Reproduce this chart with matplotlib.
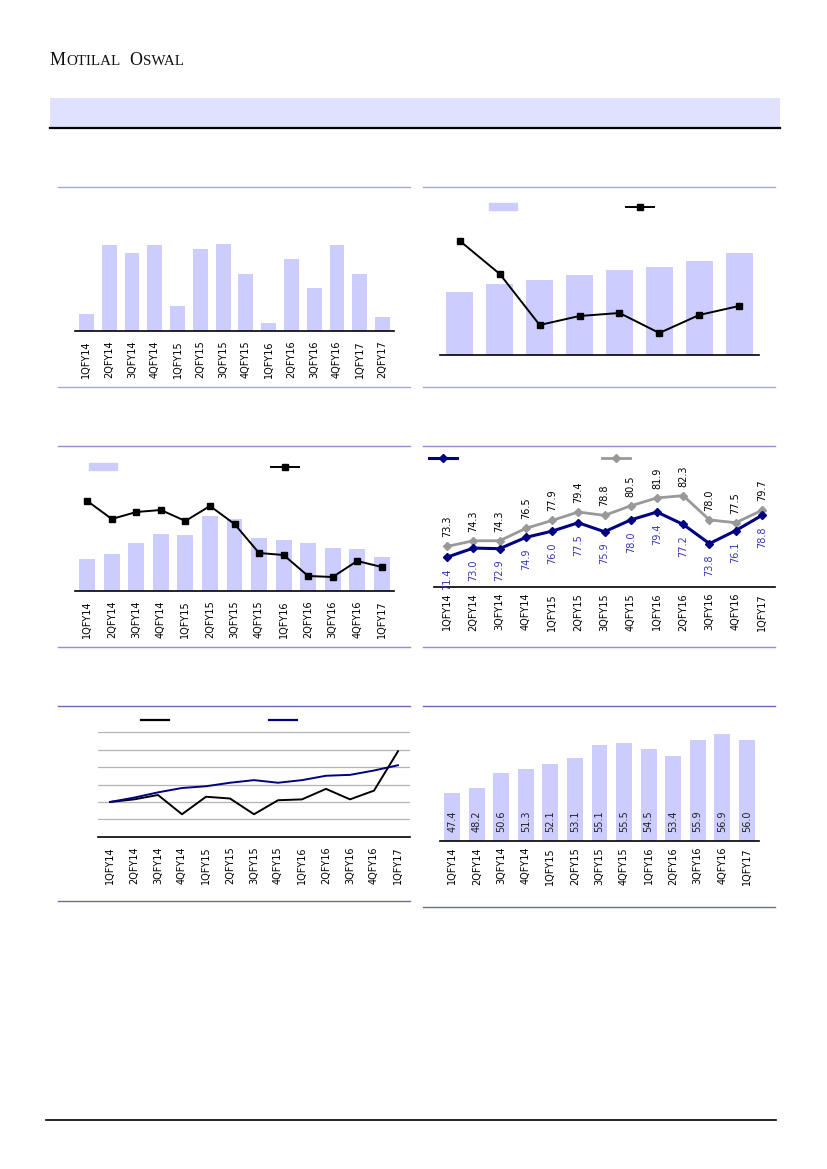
import matplotlib
matplotlib.use('Agg')
import matplotlib.pyplot as plt
from matplotlib.patches import Rectangle, Patch
from matplotlib.lines import Line2D

W, H = 827, 1169

# Chart data.
q14_q17 = ["1QFY14", "2QFY14", "3QFY14", "4QFY14", "1QFY15", "2QFY15", "3QFY15",
           "4QFY15", "1QFY16", "2QFY16", "3QFY16", "4QFY16", "1QFY17"]
q14_q17b = q14_q17 + ["2QFY17"]

p1_bars = [17, 86, 78, 86, 25, 82, 87, 57, 8, 72, 43, 86, 57, 14]

p2_bars = [63, 71, 75, 80, 85, 88, 94, 102]
p2_line = [114, 81, 30, 39, 42, 22, 40, 49]

p3_bars = [32, 37, 48, 57, 56, 75, 72, 53, 51, 48, 43, 42, 34]
p3_line = [90, 72, 79, 81, 70, 85, 67, 38, 36, 15, 14, 30, 24]

p4_navy = [71.4, 73.0, 72.9, 74.9, 76.0, 77.5, 75.9, 78.0, 79.4, 77.2, 73.8, 76.1, 78.8]
p4_gray = [73.3, 74.3, 74.3, 76.5, 77.9, 79.4, 78.8, 80.5, 81.9, 82.3, 78.0, 77.5, 79.7]

p5_black = [100, 103, 108, 86, 106, 104, 86, 102, 103, 115, 103, 113, 158]
p5_navy = [100, 105, 111, 116, 118, 122, 125, 122, 125, 130, 131, 136, 142]

p6_bars = [47.4, 48.2, 50.6, 51.3, 52.1, 53.1, 55.1, 55.5, 54.5, 53.4, 55.9, 56.9, 56.0]

BAR = '#CCCCFF'
NAVY = '#000080'
GRAY = '#999999'

fig = plt.figure(figsize=(W / 100, H / 100), dpi=100)


# Adds axes from a pixel box (left, top, right, bottom).
def ax_px(x0, y0, x1, y1):
    ax = fig.add_axes([x0 / W, 1 - y1 / H, (x1 - x0) / W, (y1 - y0) / H])
    ax.patch.set_alpha(0)
    for s in ['top', 'left', 'right']:
        ax.spines[s].set_visible(False)
    ax.spines['bottom'].set_linewidth(1.2)
    ax.tick_params(axis='both', length=0)
    ax.set_yticks([])
    return ax


def cat_axis(ax, labels, pad, show=True):
    ax.set_xticks(range(len(labels)))
    ax.set_xticklabels(labels if show else [], rotation=90, fontsize=7)
    ax.tick_params(axis='x', pad=pad)
    ax.set_xlim(-0.5, len(labels) - 0.5)


# Places a text-less legend key centred on a pixel point.
def legend_key(handle, cx, cy):
    fig.legend([handle], [''], loc='center', bbox_to_anchor=(cx / W, 1 - cy / H),
               frameon=False, handlelength=2.8, handletextpad=0, borderpad=0,
               fontsize=7)


# Page furniture.
page = fig.add_axes([0, 0, 1, 1])
page.set_xlim(0, W)
page.set_ylim(H, 0)
page.axis('off')
page.add_patch(Rectangle((50, 98), 730, 29, color='#E0E0FF', lw=0))
page.plot([50, 780], [127.5, 127.5], color='black', lw=1.6)
page.plot([46, 776], [1120, 1120], color='black', lw=1.2)
for (x0, x1, y, c) in [(58, 410, 187, '#A8A8D8'), (423, 775, 187, '#A8A8D8'),
                       (58, 410, 387, '#A8A8D8'), (423, 775, 387, '#A8A8D8'),
                       (58, 410, 446, '#9090C8'), (423, 775, 446, '#9090C8'),
                       (58, 410, 647, '#9090C8'), (423, 775, 647, '#9090C8'),
                       (58, 410, 706, '#6A6AB0'), (423, 775, 706, '#6A6AB0'),
                       (58, 410, 901, '#6A6AB0'), (423, 775, 907, '#6A6AB0')]:
    page.plot([x0, x1], [y, y], color=c, lw=1.0)

# Small-caps masthead, laid out piece by piece.
serif = 'Liberation Serif'
renderer = fig.canvas.get_renderer()
xpos = 50
for piece, size in [('M', 13), ('OTILAL', 10.8), (' ', 10.8), ('O', 13), ('SWAL', 10.8)]:
    t = page.text(xpos, 65, piece, fontsize=size, family=serif, va='baseline',
                  color='#111111')
    bb = t.get_window_extent(renderer)
    xpos += bb.width + (4 if piece == ' ' else 0.6)

# Panel 1: bars, 1QFY14-2QFY17.
ax1 = ax_px(75, 200, 394, 331)
ax1.bar(range(len(p1_bars)), p1_bars, width=0.65, color=BAR)
ax1.set_ylim(0, 131)
cat_axis(ax1, q14_q17b, pad=6.5)

# Panel 2: bars with line on second axis.
ax2 = ax_px(440, 200, 759, 355)
ax2.bar(range(len(p2_bars)), p2_bars, width=0.68, color=BAR)
ax2.set_ylim(0, 155)
cat_axis(ax2, [''] * len(p2_bars), pad=3, show=False)
ax2b = ax2.twinx()
ax2b.plot(range(len(p2_line)), p2_line, color='black', lw=1.4, marker='s', ms=4.5)
ax2b.set_ylim(0, 155)
ax2b.axis('off')
legend_key(Patch(color=BAR), 503, 207)
legend_key(Line2D([], [], color='black', lw=1.4, marker='s', ms=4.5), 640, 207)

# Panel 3: bars with line on second axis.
ax3 = ax_px(75, 455, 394, 591)
ax3.bar(range(len(p3_bars)), p3_bars, width=0.65, color=BAR)
ax3.set_ylim(0, 136)
cat_axis(ax3, q14_q17, pad=6.5)
ax3b = ax3.twinx()
ax3b.plot(range(len(p3_line)), p3_line, color='black', lw=1.4, marker='s', ms=4.5)
ax3b.set_ylim(0, 136)
ax3b.axis('off')
legend_key(Patch(color=BAR), 103, 467)
legend_key(Line2D([], [], color='black', lw=1.4, marker='s', ms=4.5), 285, 467)

# Panel 4: two labelled lines.
ax4 = ax_px(434, 450, 775, 587)
x4 = range(len(p4_navy))
ax4.plot(x4, p4_gray, color=GRAY, lw=2.0, marker='D', ms=4)
ax4.plot(x4, p4_navy, color=NAVY, lw=2.2, marker='D', ms=4)
ax4.set_ylim(66.1, 90.4)
cat_axis(ax4, q14_q17, pad=4.3)
for i, v in enumerate(p4_gray):
    ax4.annotate(f"{v:.1f}", (i, v), xytext=(0, 6.5), textcoords='offset points',
                 rotation=90, ha='center', va='bottom', fontsize=7, color='black')
for i, v in enumerate(p4_navy):
    ax4.annotate(f"{v:.1f}", (i, v), xytext=(0, -8), textcoords='offset points',
                 rotation=90, ha='center', va='top', fontsize=7, color='#3535B0')
legend_key(Line2D([], [], color=NAVY, lw=2.2, marker='D', ms=4), 443, 458)
legend_key(Line2D([], [], color=GRAY, lw=2.0, marker='D', ms=4), 616, 458)

# Panel 5: two index lines with gridlines.
ax5 = ax_px(98, 725, 410, 837)
x5 = range(len(p5_black))
ax5.plot(x5, p5_black, color='black', lw=1.4)
ax5.plot(x5, p5_navy, color=NAVY, lw=1.4)
ax5.set_ylim(60, 188)
ax5.set_yticks([80, 100, 120, 140, 160, 180])
ax5.set_yticklabels([])
ax5.yaxis.grid(True, color='#B4B4B4', lw=0.9)
ax5.set_axisbelow(True)
cat_axis(ax5, q14_q17, pad=7)
legend_key(Line2D([], [], color='black', lw=1.6), 155, 720)
legend_key(Line2D([], [], color=NAVY, lw=1.6), 283, 720)

# Panel 6: bars with inside labels.
ax6 = ax_px(440, 720, 759, 841)
x6 = range(len(p6_bars))
ax6.bar(x6, p6_bars, width=0.65, color=BAR)
ax6.set_ylim(39.7, 59.2)
cat_axis(ax6, q14_q17, pad=4.3)
for i, v in enumerate(p6_bars):
    ax6.annotate(f"{v:.1f}", (i, 0), xycoords=('data', 'axes fraction'),
                 xytext=(0, 6.5), textcoords='offset points', rotation=90,
                 ha='center', va='bottom', fontsize=7, color='#222222')

fig.savefig('out.png', dpi=100)
